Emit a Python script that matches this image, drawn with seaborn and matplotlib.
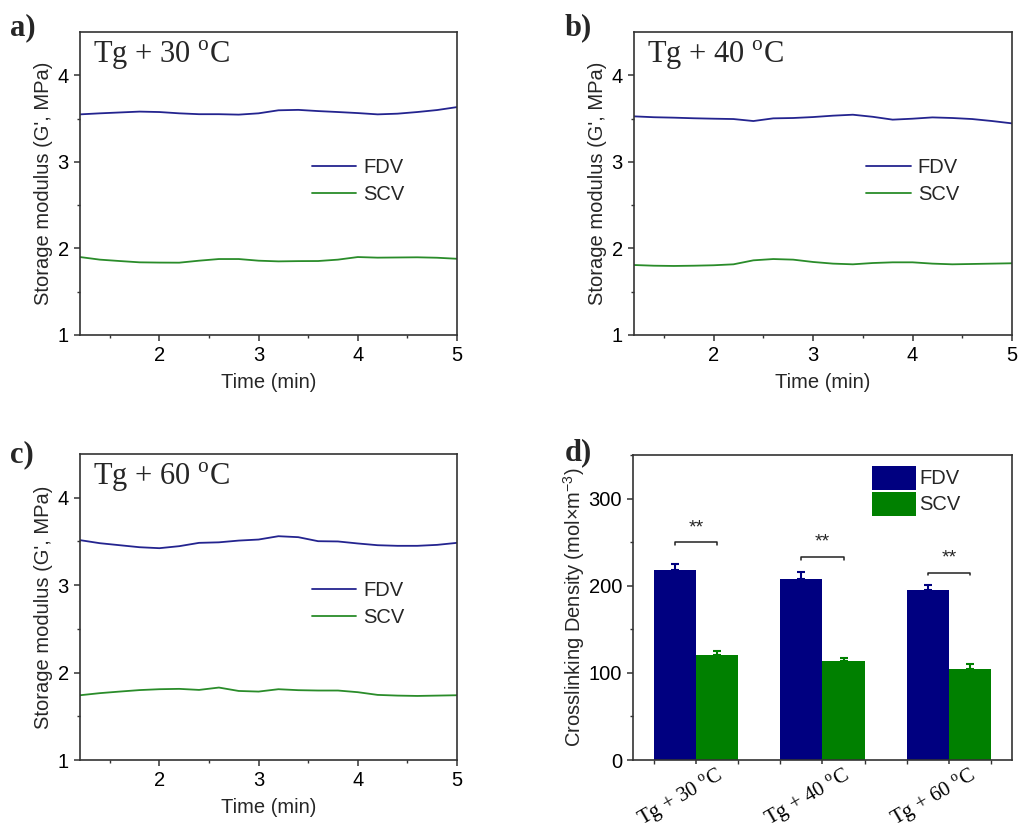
import numpy as np
import pandas as pd
import matplotlib
matplotlib.use("Agg")
import matplotlib.pyplot as plt
import matplotlib.transforms as mtransforms
from matplotlib.ticker import MultipleLocator, FixedLocator
import seaborn as sns

# -----------------------------
# Data
# -----------------------------
time = [1.2, 1.4, 1.6, 1.8, 2.0, 2.2, 2.4, 2.6, 2.8, 3.0,
        3.2, 3.4, 3.6, 3.8, 4.0, 4.2, 4.4, 4.6, 4.8, 5.0]

fdv_30 = [3.548, 3.560, 3.570, 3.580, 3.575, 3.560, 3.550, 3.550, 3.545, 3.560,
          3.595, 3.600, 3.586, 3.575, 3.563, 3.548, 3.556, 3.575, 3.598, 3.632]
scv_30 = [1.900, 1.870, 1.854, 1.839, 1.836, 1.835, 1.858, 1.877, 1.877, 1.858,
          1.850, 1.853, 1.854, 1.870, 1.900, 1.893, 1.895, 1.897, 1.892, 1.880]

fdv_40 = [3.525, 3.515, 3.510, 3.503, 3.498, 3.494, 3.471, 3.502, 3.506, 3.517,
          3.533, 3.544, 3.520, 3.487, 3.498, 3.513, 3.506, 3.494, 3.471, 3.444]
scv_40 = [1.808, 1.800, 1.797, 1.800, 1.805, 1.816, 1.862, 1.877, 1.870, 1.843,
          1.824, 1.816, 1.831, 1.839, 1.839, 1.824, 1.816, 1.820, 1.824, 1.828]

fdv_60 = [3.515, 3.480, 3.457, 3.434, 3.423, 3.446, 3.484, 3.490, 3.510, 3.522,
          3.560, 3.549, 3.503, 3.500, 3.477, 3.457, 3.450, 3.450, 3.461, 3.484]
scv_60 = [1.741, 1.765, 1.783, 1.800, 1.810, 1.814, 1.802, 1.829, 1.790, 1.783,
          1.810, 1.799, 1.795, 1.795, 1.776, 1.745, 1.737, 1.733, 1.737, 1.741]

conditions = ["Tg + 30 oC", "Tg + 40 oC", "Tg + 60 oC"]
cond_labels = [r"Tg + 30 $^{\mathrm{o}}$C", r"Tg + 40 $^{\mathrm{o}}$C", r"Tg + 60 $^{\mathrm{o}}$C"]
samples = ["FDV", "SCV"]
fdv_density = [218, 208, 195]
fdv_err = [7.5, 8, 6]
scv_density = [120, 114, 105]
scv_err = [5, 3, 5]
bracket_y = [250, 233, 215]

line_colors = ["#24248f", "#2a8c2a"]
bar_colors = ["#000080", "#008000"]

# -----------------------------
# Style
# -----------------------------
sns.set_style("ticks")
plt.rcParams["font.family"] = ["Liberation Sans", "DejaVu Sans"]
plt.rcParams["mathtext.fontset"] = "custom"
plt.rcParams["mathtext.rm"] = "Liberation Serif"
plt.rcParams["mathtext.sf"] = "Liberation Sans"
plt.rcParams["axes.edgecolor"] = "#333333"
plt.rcParams["axes.linewidth"] = 1.2
plt.rcParams["xtick.color"] = "#333333"
plt.rcParams["ytick.color"] = "#333333"
plt.rcParams["xtick.labelcolor"] = "black"
plt.rcParams["ytick.labelcolor"] = "black"

FS = 14.5
serif = "Liberation Serif"

fig = plt.figure(figsize=(10.18, 8.32), dpi=100)

ax_a = fig.add_axes([0.0786, 0.5974, 0.3703, 0.3642])
ax_b = fig.add_axes([0.6228, 0.5974, 0.3713, 0.3642])
ax_c = fig.add_axes([0.0786, 0.0865, 0.3703, 0.3678])
ax_d = fig.add_axes([0.6218, 0.0865, 0.3723, 0.3666])


def style_ticks(ax):
    ax.tick_params(which="major", direction="out", length=4, width=1.1, labelsize=FS,
                   top=False, right=False, pad=4)
    ax.tick_params(which="minor", direction="out", length=2.4, width=1.0,
                   top=False, right=False)
    for s in ax.spines.values():
        s.set_visible(True)


def line_panel(ax, fdv, scv, title):
    n = len(time)
    df = pd.DataFrame({
        "time": time + time,
        "modulus": fdv + scv,
        "sample": ["FDV"] * n + ["SCV"] * n,
    })
    sns.lineplot(data=df, x="time", y="modulus", hue="sample",
                 palette=line_colors, linewidth=1.3, ax=ax)
    ax.set_xlim(1.2, 5)
    ax.set_ylim(1, 4.5)
    ax.xaxis.set_major_locator(FixedLocator([2, 3, 4, 5]))
    ax.xaxis.set_minor_locator(FixedLocator([1.5, 2.5, 3.5, 4.5]))
    ax.yaxis.set_major_locator(FixedLocator([1, 2, 3, 4]))
    ax.yaxis.set_minor_locator(FixedLocator([1.5, 2.5, 3.5]))
    ax.set_xlabel("Time (min)", fontsize=FS, labelpad=6)
    ax.set_ylabel("Storage modulus (G', MPa)", fontsize=FS, labelpad=3)
    style_ticks(ax)
    ax.legend(loc="upper left", bbox_to_anchor=(0.615, 0.585), frameon=False,
              fontsize=FS, handlelength=2.2, handletextpad=0.35,
              labelspacing=0.4, borderpad=0, borderaxespad=0)
    ax.text(0.034, 0.898, title, transform=ax.transAxes, fontsize=22,
            family=serif, va="baseline", ha="left")


line_panel(ax_a, fdv_30, scv_30, cond_labels[0])
line_panel(ax_b, fdv_40, scv_40, cond_labels[1])
line_panel(ax_c, fdv_60, scv_60, cond_labels[2])

# -----------------------------
# Panel d: crosslinking density
# -----------------------------
bar_df = pd.DataFrame({
    "condition": conditions * 2,
    "density": fdv_density + scv_density,
    "sample": ["FDV"] * 3 + ["SCV"] * 3,
})
sns.barplot(data=bar_df, x="condition", y="density", hue="sample",
            palette=bar_colors, width=0.667, saturation=1, errorbar=None,
            linewidth=0, ax=ax_d)

bar_conts = list(ax_d.containers)
errs = [fdv_err, scv_err]
centers = []
for i, cont in enumerate(bar_conts):
    xs = [p.get_x() + p.get_width() / 2 for p in cont.patches]
    hs = [p.get_height() for p in cont.patches]
    centers.append(xs)
    ax_d.errorbar(xs, hs, yerr=[[0] * len(hs), errs[i]], fmt="none",
                  ecolor=bar_colors[i], elinewidth=1.5, capsize=2.8,
                  capthick=1.5, zorder=1)
    for p in cont.patches:
        p.set_zorder(2)

for x1, x2, yb in zip(centers[0], centers[1], bracket_y):
    ax_d.plot([x1, x1, x2, x2], [yb - 3, yb, yb, yb - 3], color="#222222", lw=1.1)
    ax_d.text((x1 + x2) / 2, yb + 7, "**", ha="center", va="bottom", fontsize=14)

ax_d.set_xlim(-0.5, 2.5)
ax_d.set_ylim(0, 350)
ax_d.yaxis.set_major_locator(MultipleLocator(100))
ax_d.yaxis.set_minor_locator(MultipleLocator(50))
ax_d.xaxis.set_minor_locator(FixedLocator([-1 / 3, 1 / 3, 2 / 3, 4 / 3, 5 / 3, 7 / 3]))
style_ticks(ax_d)
ax_d.tick_params(axis="x", which="both", length=3)
ax_d.set_xlabel("")
ax_d.set_ylabel(r"Crosslinking Density (mol×m$^{\mathsf{-3}}$)", fontsize=FS, labelpad=1)
ax_d.set_xticks(range(3))
ax_d.set_xticklabels(cond_labels, fontsize=15, family=serif)
offset = mtransforms.ScaledTranslation(-0.15, -0.28, fig.dpi_scale_trans)
for lab in ax_d.get_xticklabels():
    lab.set_rotation(30)
    lab.set_ha("center")
    lab.set_va("center")
    lab.set_rotation_mode("anchor")
    lab.set_transform(lab.get_transform() + offset)

ax_d.legend(loc="upper left", bbox_to_anchor=(0.631, 0.965), frameon=False,
            fontsize=FS, handlelength=2.2, handleheight=1.45, handletextpad=0.15,
            labelspacing=0.1, borderpad=0, borderaxespad=0)

# -----------------------------
# Panel letters
# -----------------------------
for letter, (px, py) in {"a)": (10, 28), "b)": (565, 28),
                         "c)": (10, 455), "d)": (565, 453)}.items():
    fig.text(px / 1018, 1 - py / 832, letter, fontsize=22, fontweight="bold",
             family=serif, va="center", ha="left")

fig.savefig("out.png", dpi=100)
